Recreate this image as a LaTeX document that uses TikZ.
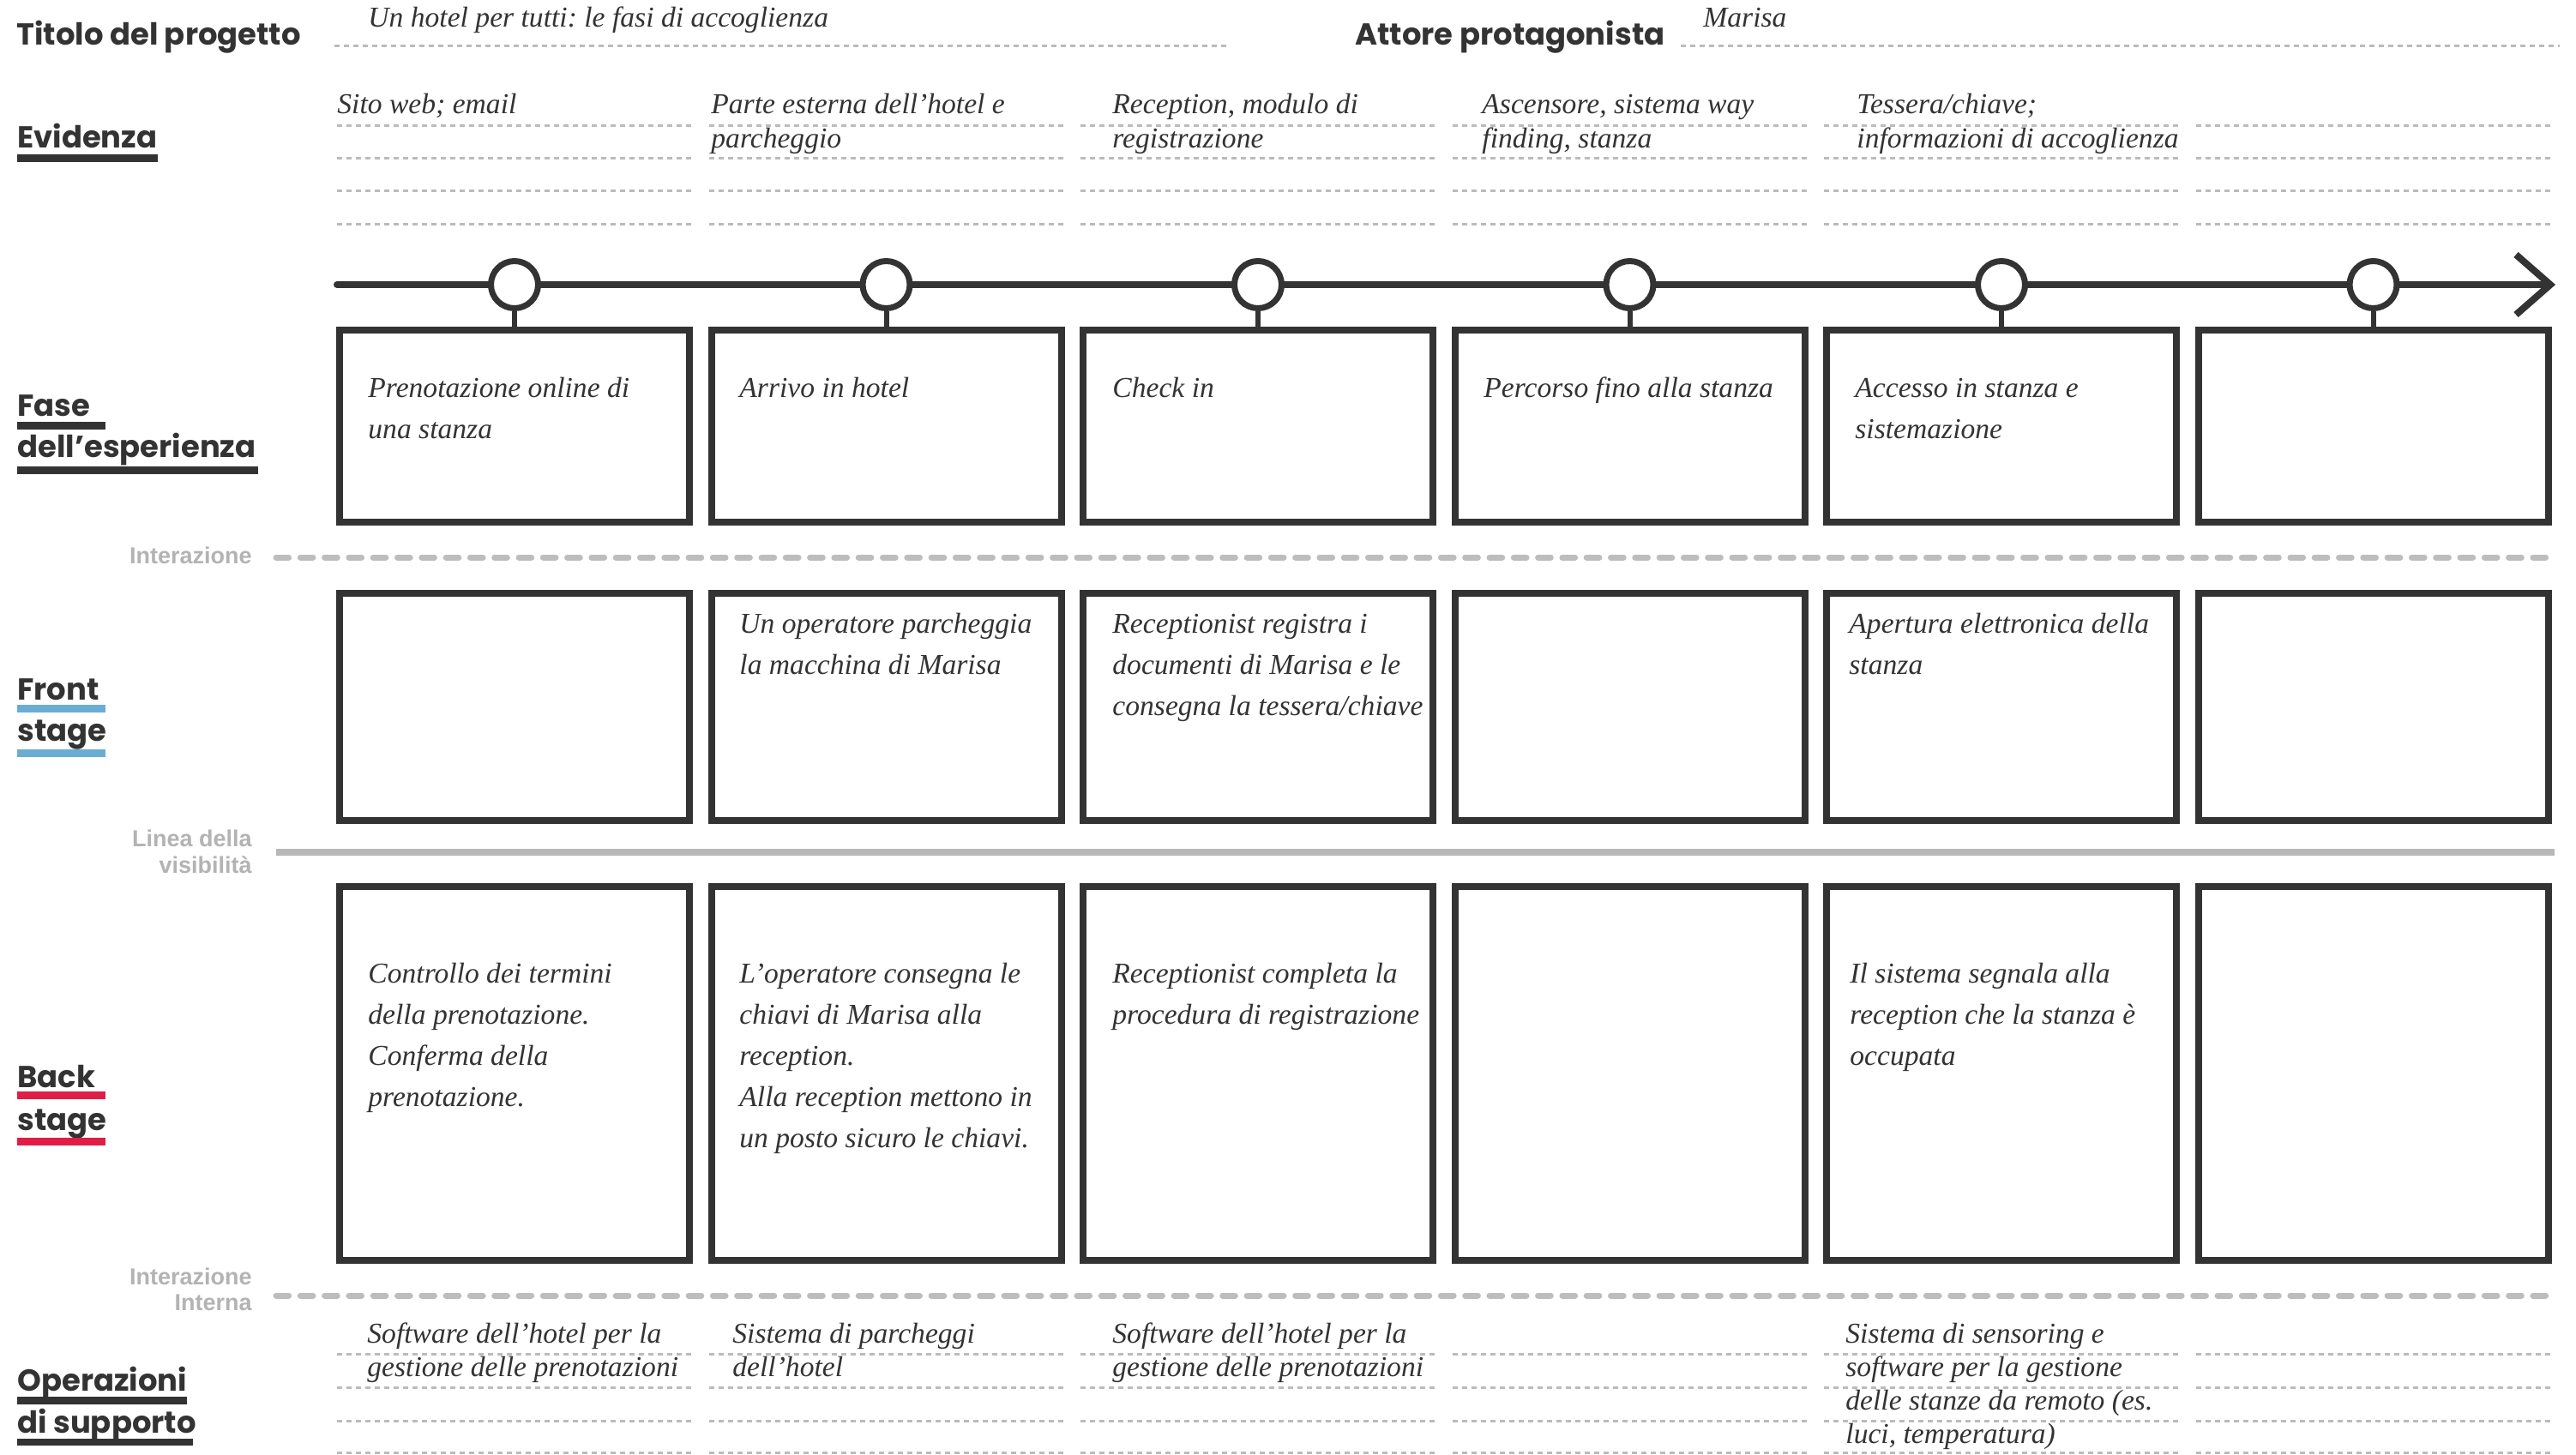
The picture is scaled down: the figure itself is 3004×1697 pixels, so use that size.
\documentclass[tikz,border=0pt]{standalone}
\usepackage{fontspec}
\setmainfont{Liberation Serif}
\newfontfamily\labfont{Poppins}
\newfontfamily\grayfont{Liberation Sans}
\frenchspacing
\definecolor{dk}{HTML}{333333}
\definecolor{lg}{HTML}{BDBDBD}
\definecolor{vis}{HTML}{B8B8B8}
\definecolor{dotc}{HTML}{BBBBBB}
\definecolor{glabc}{HTML}{B3B3B3}
\definecolor{fblue}{HTML}{6AADD3}
\definecolor{bred}{HTML}{E01E45}
\newcommand\ml[2]{\vtop{\baselineskip=#1\lineskiplimit=-30pt\lineskip=0pt\halign{##\hfil\cr#2\crcr}}}
\tikzset{
  box/.style={draw=dk, line width=4pt, rectangle, minimum width=204pt, inner sep=0pt, outer sep=0pt, fill=white},
  it/.style={font=\frenchspacing\fontsize{16.8}{24}\selectfont\itshape, text=dk, inner sep=0pt, anchor=base west},
  lab/.style={font=\labfont\bfseries\fontsize{17.7}{22}\selectfont, text=dk, inner sep=0pt, anchor=base west},
  glab/.style={font=\grayfont\bfseries\fontsize{13.5}{16}\selectfont, text=glabc, inner sep=0pt, anchor=base east},
  dotl/.style={draw=dotc, line width=1.5pt, dash pattern=on 3pt off 2.5pt},
  dashl/.style={draw=lg, line width=3.5pt, line cap=round, dash pattern=on 7.35pt off 6.8pt},
  phase/.style={circle, draw=dk, line width=3.5pt, fill=white, minimum size=27.5pt, inner sep=0pt},
  stem/.style={draw=dk, line width=3pt},
}
\begin{document}
\begin{tikzpicture}[x=0.5pt,y=-0.5pt]
\fill[white] (0,0) rectangle (3004,1697);
\useasboundingbox (0,0) rectangle (3004,1697);

% header
\node[lab] (ttl) at (19,52) {Titolo del progetto};
\node[it] (ttlv) at (429,32) {Un hotel per tutti: le fasi di accoglienza};
\node[lab] (att) at (1580,52) {Attore protagonista};
\node[it] (attv) at (1986,32) {Marisa};
\draw[dotl] (390,53) -- (1431,53);
\draw[dotl] (1960,53) -- (2985,53);

% dotted rows (Evidenza and Operazioni)
\foreach \c in {600,1033.5,1467,1900.5,2334,2767.5}{
  \foreach \y in {146,184,222,261,1579,1618,1657,1694}{
    \draw[dotl] (\c-207,\y) -- (\c+207,\y);
  }
}

% left labels with bars
\node[lab] (lev) at (20,172) {Evidenza};
\fill[dk] (20,180) rectangle (184,189);
\node[lab] (lfa1) at (20,485) {Fase};
\fill[dk] (20,492) rectangle (123,501);
\node[lab] (lfa2) at (20,533) {dell’esperienza};
\fill[dk] (20,544) rectangle (301,553);
\node[lab] (lfr1) at (20,816) {Front};
\fill[fblue] (20,822) rectangle (123,831);
\node[lab] (lfr2) at (20,864) {stage};
\fill[fblue] (20,874) rectangle (123,883);
\node[lab] (lba1) at (20,1268) {Back};
\fill[bred] (20,1273) rectangle (123,1282);
\node[lab] (lba2) at (20,1318) {stage};
\fill[bred] (20,1327) rectangle (123,1336);
\node[lab] (lop1) at (20,1622) {Operazioni};
\fill[dk] (20,1629) rectangle (218,1638);
\node[lab] (lop2) at (20,1671) {di supporto};
\fill[dk] (20,1678) rectangle (225,1686);

% gray separators and labels
\node[glab] (gi1) at (294,657) {Interazione};
\draw[dashl] (322,650) -- (2979,650);
\node[glab] (gv1) at (294,987) {Linea della};
\node[glab] (gv2) at (294,1018) {visibilità};
\draw[draw=vis, line width=4pt] (322,994) -- (2979,994);
\node[glab] (gi2) at (294,1498) {Interazione};
\node[glab] (gi3) at (294,1528) {Interna};
\draw[dashl] (322,1511) -- (2979,1511);

% timeline
\coordinate (tl0) at (393,332);
\coordinate (tl1) at (2970,332);
\coordinate (tip) at (2974,332);
\coordinate (a1) at (2934,297);
\coordinate (a2) at (2934,367);
\draw[dk, line width=4pt, line cap=round] (tl0) -- (tl1);
\draw[dk, line width=4pt, line join=miter] (a1) -- (tip) -- (a2);

% boxes, circles, stems
\foreach \i/\c in {1/600,2/1033.5,3/1467,4/1900.5,5/2334,6/2767.5}{
  \node[box, minimum height=112pt] (f\i) at (\c,497) {};
  \node[box, minimum height=132.5pt] (r\i) at (\c,824.5) {};
  \node[box, minimum height=218pt] (b\i) at (\c,1252) {};
  \node[phase] (p\i) at (\c,332) {};
  \draw[stem] (p\i.south) -- (f\i.north);
}

% Evidenza texts
\node[it] (e1) at (393,132) {\ml{20pt}{Sito web; email}};
\node[it] (e2) at (829,132) {\ml{20pt}{Parte esterna dell’hotel e\cr parcheggio}};
\node[it] (e3) at (1297,132) {\ml{20pt}{Reception, modulo di\cr registrazione}};
\node[it] (e4) at (1728,132) {\ml{20pt}{Ascensore, sistema way\cr finding, stanza}};
\node[it] (e5) at (2165,132) {\ml{20pt}{Tessera/chiave;\cr informazioni di accoglienza}};

% Fase texts
\node[it] (ft1) at (429,463) {\ml{24pt}{Prenotazione online di\cr una stanza}};
\node[it] (ft2) at (862,463) {\ml{24pt}{Arrivo in hotel}};
\node[it] (ft3) at (1297,463) {\ml{24pt}{Check in}};
\node[it] (ft4) at (1730,463) {\ml{24pt}{Percorso fino alla stanza}};
\node[it] (ft5) at (2163,463) {\ml{24pt}{Accesso in stanza e\cr sistemazione}};

% Front stage texts
\node[it] (rt2) at (862,738) {\ml{24pt}{Un operatore parcheggia\cr la macchina di Marisa}};
\node[it] (rt3) at (1297,738) {\ml{24pt}{Receptionist registra i\cr documenti di Marisa e le\cr consegna la tessera/chiave}};
\node[it] (rt5) at (2156,738) {\ml{24pt}{Apertura elettronica della\cr stanza}};

% Back stage texts
\node[it] (bt1) at (429,1146) {\ml{24pt}{Controllo dei termini\cr della prenotazione.\cr Conferma della\cr prenotazione.}};
\node[it] (bt2) at (862,1146) {\ml{24pt}{L’operatore consegna le\cr chiavi di Marisa alla\cr reception.\cr Alla reception mettono in\cr un posto sicuro le chiavi.}};
\node[it] (bt3) at (1297,1146) {\ml{24pt}{Receptionist completa la\cr procedura di registrazione}};
\node[it] (bt5) at (2157,1146) {\ml{24pt}{Il sistema segnala alla\cr reception che la stanza è\cr occupata}};

% Operazioni texts
\node[it] (ot1) at (428,1566) {\ml{19.6pt}{Software dell’hotel per la\cr gestione delle prenotazioni}};
\node[it] (ot2) at (854,1566) {\ml{19.6pt}{Sistema di parcheggi\cr dell’hotel}};
\node[it] (ot3) at (1297,1566) {\ml{19.6pt}{Software dell’hotel per la\cr gestione delle prenotazioni}};
\node[it] (ot5) at (2152,1566) {\ml{19.6pt}{Sistema di sensoring e\cr software per la gestione\cr delle stanze da remoto (es.\cr luci, temperatura)}};
\end{tikzpicture}
\end{document}
